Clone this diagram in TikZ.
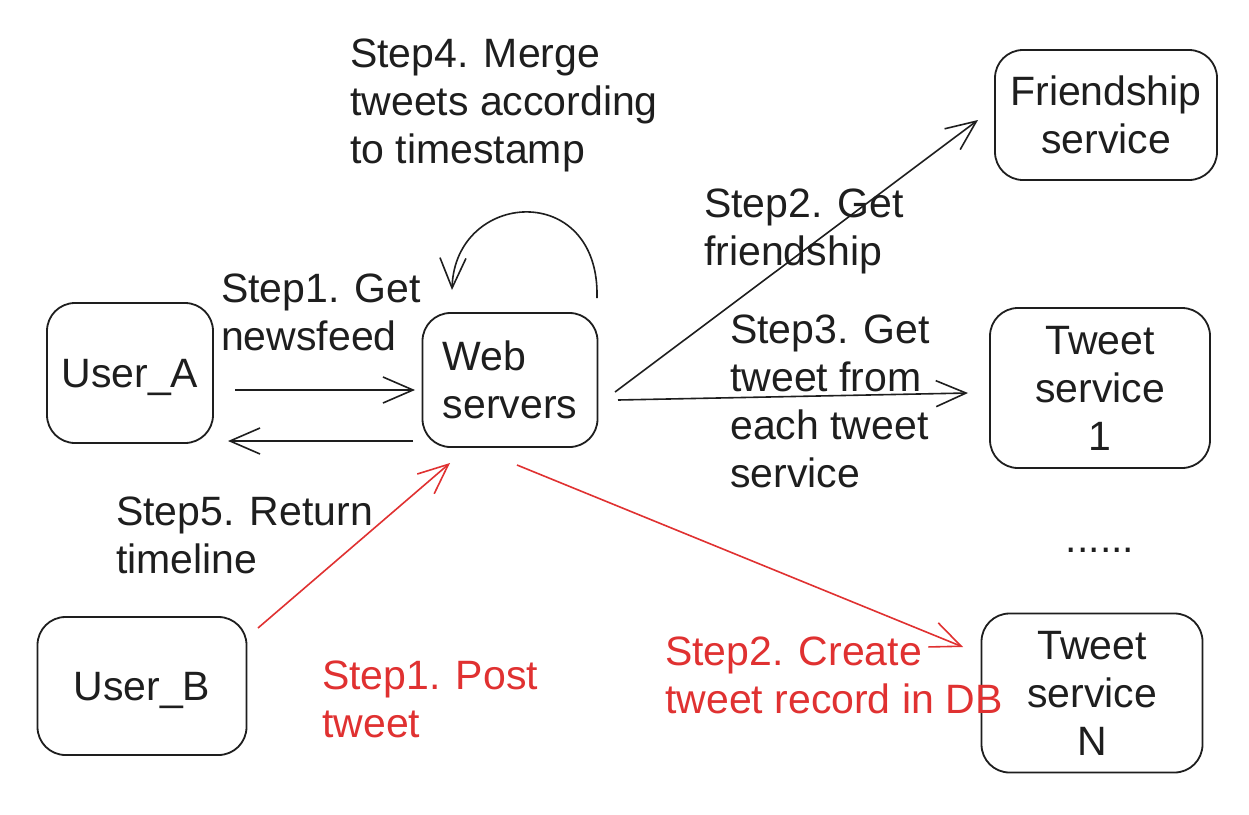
\documentclass[tikz,border=0pt]{standalone}
\usepackage{fontspec}
\setmainfont{Liberation Sans}
\usetikzlibrary{arrows.meta}
\definecolor{ink}{HTML}{1E1E1E}
\definecolor{redink}{HTML}{E03131}
\tikzset{
  box/.style={draw=ink, line width=1.8pt, rounded corners=28pt, inner sep=0pt, align=center, text=ink},
  lbl/.style={anchor=north west, inner sep=0pt, align=left, text=ink},
  redlbl/.style={lbl, text=redink},
  conn/.style={draw=ink, line width=1.6pt, -{Straight Barb[length=30pt,width=26pt,line width=1.6pt]}},
  redconn/.style={conn, draw=redink},
}
\begin{document}
\begin{tikzpicture}[x=1pt,y=-1pt,font=\fontsize{41}{48}\selectfont]
\useasboundingbox[fill=white] (0,0) rectangle (1249,814);
% boxes
\node[box, minimum width=166pt, minimum height=140pt, text depth=0pt] (ua) at (130,373) {User\_A};
\node[box, minimum width=175pt, minimum height=134pt, align=left] (web) at (510,380) {Web\\servers};
\node[box, minimum width=222pt, minimum height=130pt] (fs) at (1106,115) {Friendship\\service};
\node[box, minimum width=220pt, minimum height=160pt] (ts1) at (1100,388) {Tweet\\service\\1};
\node[box, minimum width=221pt, minimum height=159pt] (tsn) at (1092,693) {Tweet\\service\\N};
\node[box, minimum width=209pt, minimum height=138pt, text depth=0pt] (ub) at (142,686) {User\_B};
\node[text=ink, inner sep=0pt] (dots) at (1100,550) {......};
% labels
\node[lbl] (l4) at (350,39) {Step4. Merge\\tweets according\\to timestamp};
\node[lbl] (l2) at (704,189) {Step2. Get\\friendship};
\node[lbl] (l1) at (221,274) {Step1. Get\\newsfeed};
\node[lbl] (l3) at (730,315) {Step3. Get\\tweet from\\each tweet\\service};
\node[lbl] (l5) at (116,497) {Step5. Return\\timeline};
\node[redlbl] (r1) at (322,661) {Step1. Post\\tweet};
\node[redlbl] (r2) at (665,637) {Step2. Create\\tweet record in DB};
% connector end points
\coordinate (uaout) at (235,390);
\coordinate (webin) at (415,390);
\coordinate (webout) at (413,441);
\coordinate (uain) at (228,441);
\coordinate (loopa) at (597,298);
\coordinate (loopb) at (452,290);
\coordinate (webfs) at (615,392);
\coordinate (fsin) at (978,120);
\coordinate (webts) at (618,400);
\coordinate (tsin) at (968,393);
\coordinate (ubout) at (258,628);
\coordinate (webinb) at (450,463);
\coordinate (webred) at (517,465);
\coordinate (tsnin) at (963,647);
% connectors
\draw[conn] (uaout) -- (webin);
\draw[conn] (webout) -- (uain);
\draw[conn] (loopa) .. controls (600,180) and (455,190) .. (loopb);
\draw[conn] (webfs) -- (fsin);
\draw[conn] (webts) -- (tsin);
\draw[redconn] (ubout) -- (webinb);
\draw[redconn] (webred) -- (tsnin);
\end{tikzpicture}
\end{document}
